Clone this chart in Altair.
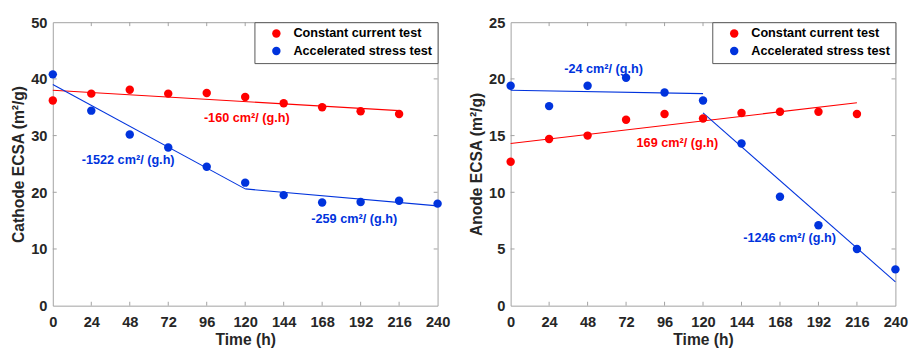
import altair as alt
import pandas as pd

# ---------------- data ----------------
times = [0, 24, 48, 72, 96, 120, 144, 168, 192, 216, 240]
x_ticks = [0, 24, 48, 72, 96, 120, 144, 168, 192, 216, 240]

cath_cc = [36.2, 37.4, 38.1, 37.4, 37.5, 36.8, 35.7, 35.0, 34.3, 33.8]
cath_ast = [40.8, 34.4, 30.2, 27.9, 24.5, 21.7, 19.5, 18.2, 18.3, 18.5, 18.0]
anod_cc = [12.7, 14.7, 15.0, 16.4, 16.9, 16.5, 17.0, 17.1, 17.1, 16.9]
anod_ast = [19.4, 17.6, 19.4, 20.1, 18.8, 18.1, 14.3, 9.6, 7.1, 5.0, 3.2]

# fitted segments: (series, segment, x0, y0, x1, y1)
cath_fits = [("cc", "a", 0, 38.0, 216, 34.4),
             ("ast", "b", 0, 39.0, 120, 20.6),
             ("ast", "c", 120, 20.6, 240, 17.6)]
anod_fits = [("cc", "a", 0, 14.3, 216, 17.9),
             ("ast", "b", 0, 19.0, 120, 18.7),
             ("ast", "c", 120, 17.0, 240, 2.1)]

cath_notes = [("-160 cm²/ (g.h)", 121, 33.1, "cc"),
              ("-1522 cm²/ (g.h)", 47, 25.6, "ast"),
              ("-259 cm²/ (g.h)", 188, 15.2, "ast")]
anod_notes = [("-24 cm²/ (g.h)", 58, 20.9, "ast"),
              ("169 cm²/ (g.h)", 104, 14.3, "cc"),
              ("-1246 cm²/ (g.h)", 174, 6.0, "ast")]

series_names = ["Constant current test", "Accelerated stress test"]
RED = "#ff0000"
BLUE = "#0033dd"
col = {"cc": RED, "ast": BLUE}

W, H = 395, 291
FONT = "Liberation Sans"
TXT = "#262626"
BOX = "#a0a0a0"


def panel(cc, ast, fits, notes, ymax, ystep, ytitle, show_legend=True):
    y_ticks = list(range(0, ymax + 1, ystep))
    pts = pd.DataFrame(
        [{"t": t, "v": v, "s": series_names[0]} for t, v in zip(times, cc)]
        + [{"t": t, "v": v, "s": series_names[1]} for t, v in zip(times, ast)]
    )
    fit_rows = []
    for s, seg, x0, y0, x1, y1 in fits:
        fit_rows.append({"t": x0, "v": y0, "seg": seg, "c": col[s]})
        fit_rows.append({"t": x1, "v": y1, "seg": seg, "c": col[s]})
    fit_df = pd.DataFrame(fit_rows)
    note_df = pd.DataFrame([{"label": l, "t": x, "v": y, "c": col[s]} for l, x, y, s in notes])

    xs = alt.Scale(domain=[0, 240], nice=False)
    ys = alt.Scale(domain=[0, ymax], nice=False)

    xaxis = alt.Axis(values=x_ticks, title="Time (h)", grid=False, ticks=False,
                     domain=False, labelPadding=9, titlePadding=3,
                     labelOverlap=False, labelFlush=False)
    yaxis = alt.Axis(values=y_ticks, title=ytitle, grid=False, ticks=False,
                     domain=False, labelPadding=6, titlePadding=4,
                     labelOverlap=False, labelFlush=False)

    def X(f):
        return alt.X(f, scale=xs, axis=xaxis)

    def Y(f):
        return alt.Y(f, scale=ys, axis=yaxis)

    lines = alt.Chart(fit_df).mark_line(strokeWidth=1.1).encode(
        x=X("t:Q"), y=Y("v:Q"),
        detail="seg:N",
        color=alt.Color("c:N", scale=None),
    )
    legend = alt.Legend(
        title=None, orient="top-right", offset=0, fillColor="white",
        strokeColor="#555555", padding=5, symbolType="circle", symbolSize=75,
        labelFont=FONT, labelFontSize=13, labelFontWeight="bold", labelColor="black",
        rowPadding=4, symbolOffset=11, labelOffset=11,
    ) if show_legend else None
    points = alt.Chart(pts).mark_point(filled=True, size=75, opacity=1, shape="circle").encode(
        x=X("t:Q"), y=Y("v:Q"),
        color=alt.Color("s:N", scale=alt.Scale(domain=series_names, range=[RED, BLUE]),
                        sort=series_names, legend=legend),
    )
    texts = alt.Chart(note_df).mark_text(font=FONT, fontSize=13, fontWeight="bold").encode(
        x=X("t:Q"), y=Y("v:Q"),
        text="label:N",
        color=alt.Color("c:N", scale=None),
    )
    tx = pd.DataFrame({"t": x_ticks[1:-1]})
    ty = pd.DataFrame({"v": y_ticks[1:-1]})
    tick_b = alt.Chart(tx).mark_rule(color=BOX).encode(
        x=X("t:Q"), y=alt.value(H), y2=alt.value(H - 4))
    tick_t = alt.Chart(tx).mark_rule(color=BOX).encode(
        x=X("t:Q"), y=alt.value(0), y2=alt.value(4))
    tick_l = alt.Chart(ty).mark_rule(color=BOX).encode(
        y=Y("v:Q"), x=alt.value(0), x2=alt.value(4))
    tick_r = alt.Chart(ty).mark_rule(color=BOX).encode(
        y=Y("v:Q"), x=alt.value(W), x2=alt.value(W - 4))
    return alt.layer(lines, tick_b, tick_t, tick_l, tick_r, points, texts).properties(
        width=W, height=H)


left = panel(cath_cc, cath_ast, cath_fits, cath_notes, 50, 10, "Cathode ECSA (m²/g)")
right = panel(anod_cc, anod_ast, anod_fits, anod_notes, 25, 5, "Anode ECSA (m²/g)")

chart = alt.hconcat(left, right, spacing=17).resolve_scale(
    color="independent"
).configure(
    padding={"left": 2, "top": 2, "right": 2, "bottom": 0},
).configure_view(
    stroke=BOX, strokeWidth=1
).configure_axis(
    labelFont=FONT, labelFontSize=15, labelFontWeight="bold", labelColor=TXT,
    titleFont=FONT, titleFontSize=16, titleFontWeight="bold", titleColor=TXT,
    labelOverlap=False,
)

chart.save("out.html", embed_options={"renderer": "svg", "actions": False})
